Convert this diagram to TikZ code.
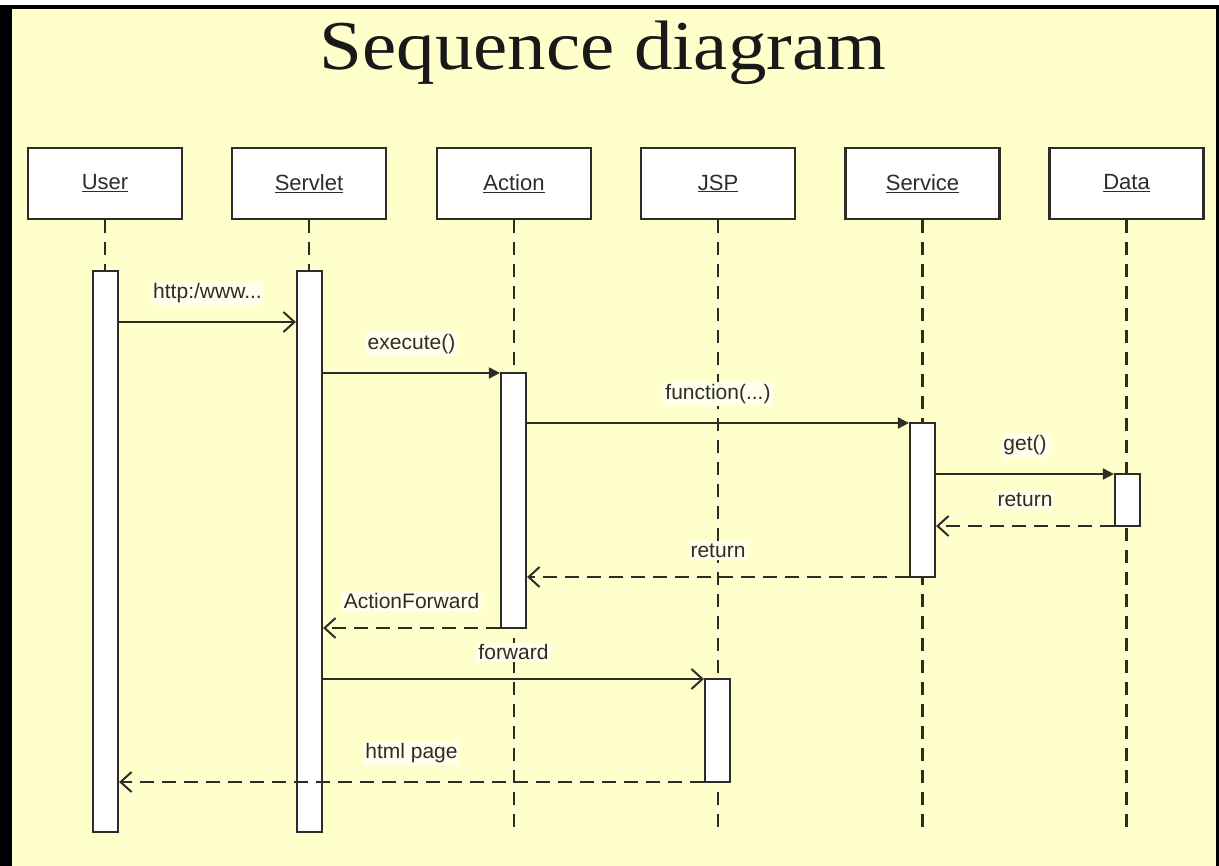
\documentclass[tikz,border=0pt]{standalone}
\usepackage{fontspec}
\setmainfont{Liberation Serif}
\newfontfamily\arialf{Liberation Sans}
\usetikzlibrary{arrows.meta,calc}
\definecolor{bg}{RGB}{255,255,204}
\definecolor{ink}{RGB}{45,45,40}
\definecolor{lblbg}{RGB}{255,255,236}
\tikzset{
 head/.style={draw=ink, line width=2.2pt, fill=white, minimum width=154pt, minimum height=71pt, inner sep=0pt, font=\arialf\fontsize{22}{26}\selectfont, text=ink},
 actbar/.style={draw=ink, line width=2.2pt, fill=white, minimum width=25pt, inner sep=0pt},
 lifeline/.style={draw=ink, line width=2.2pt, dash pattern=on 13pt off 9pt},
 call/.style={draw=ink, line width=2pt, -{Triangle[length=11pt,width=11pt]}},
 asyncmsg/.style={draw=ink, line width=2pt, -{Straight Barb[length=11pt,width=20pt]}},
 retmsg/.style={asyncmsg, dash pattern=on 14pt off 8pt},
 lbl/.style={fill=lblbg, inner sep=2pt, font=\arialf\fontsize{21}{25}\selectfont, text=ink},
}
\begin{document}
\begin{tikzpicture}[x=1pt,y=-1pt]
\useasboundingbox (0,0) rectangle (1219,866);
% frame and background
\fill[white] (0,0) rectangle (1219,866);
\fill[bg] (0,5) rectangle (1219,866);
\fill[black] (0,5) rectangle (1219,9);
\fill[black] (0,5) rectangle (12,866);
\fill[black] (1216,5) rectangle (1219,866);
% title
\node[font=\fontsize{70}{78}\selectfont, anchor=base, inner sep=0pt, text=black!90] (title) at (603,70) {\scalebox{1.1}[1]{Sequence diagram}};
% heads
\node[head] (user) at (105,183.5) {\underline{User}};
\node[head] (servlet) at (309,183.5) {\underline{Servlet}};
\node[head] (action) at (514,183.5) {\underline{Action}};
\node[head] (jsp) at (718,183.5) {\underline{JSP}};
\node[head] (service) at (922.5,183.5) {\underline{Service}};
\node[head] (data) at (1126.5,183.5) {\underline{Data}};
% lifelines
\coordinate (lend) at (0,835);
\foreach \n in {user,servlet,action,jsp,service,data}
  \draw[lifeline] (\n.south) -- (\n.south |- lend);
% activation bars
\node[actbar, minimum height=561pt] (ub) at (105.5,551.5) {};
\node[actbar, minimum height=561pt] (sb) at (309.5,551.5) {};
\node[actbar, minimum height=255pt] (ab) at (513.5,500.5) {};
\node[actbar, minimum height=154pt] (svb) at (922.5,500) {};
\node[actbar, minimum height=52pt] (db) at (1127.5,500) {};
\node[actbar, minimum height=103pt] (jb) at (717.5,730.5) {};
% message levels
\coordinate (m1) at (0,322);
\coordinate (m2) at (0,373);
\coordinate (m3) at (0,423);
\coordinate (m4) at (0,474);
\coordinate (m5) at (0,526);
\coordinate (m6) at (0,577);
\coordinate (m7) at (0,628);
\coordinate (m8) at (0,679);
\coordinate (m9) at (0,782);
% messages
\draw[asyncmsg] (ub.east |- m1) -- node[lbl, above=16pt] {http:/www...} (sb.west |- m1);
\draw[call] (sb.east |- m2) -- node[lbl, above=16pt] {execute()} (ab.west |- m2);
\draw[call] (ab.east |- m3) -- node[lbl, above=16pt] {function(...)} (svb.west |- m3);
\draw[call] (svb.east |- m4) -- node[lbl, above=16pt] {get()} (db.west |- m4);
\draw[retmsg] (db.west |- m5) -- node[lbl, above=16pt] {return} (svb.east |- m5);
\draw[retmsg] (svb.west |- m6) -- node[lbl, above=16pt] {return} (ab.east |- m6);
\draw[retmsg] (ab.west |- m7) -- node[lbl, above=16pt] {ActionForward} (sb.east |- m7);
\draw[asyncmsg] (sb.east |- m8) -- node[lbl, above=16pt] {forward} (jb.west |- m8);
\draw[retmsg] (jb.west |- m9) -- node[lbl, above=16pt] {html page} (ub.east |- m9);
\end{tikzpicture}
\end{document}
